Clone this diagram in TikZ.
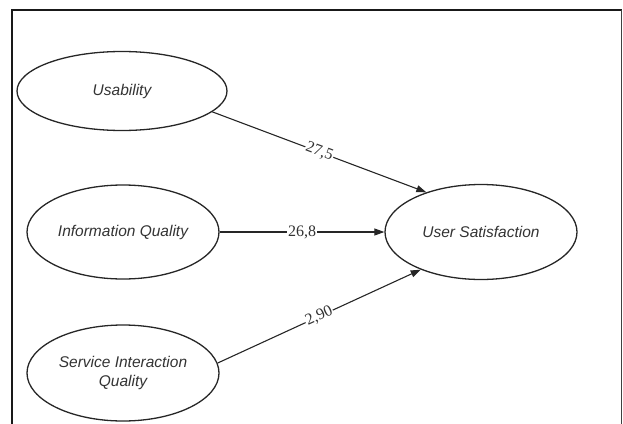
\documentclass[tikz,border=0pt]{standalone}
\usepackage{fontspec}
\setmainfont{Liberation Serif}
\setsansfont{Liberation Sans}
\usetikzlibrary{shapes.geometric,arrows.meta}
\begin{document}
\begin{tikzpicture}[x=1pt,y=-1pt,
  construct/.style={ellipse,draw=black!85,line width=1.3pt,inner sep=0pt,
    font=\sffamily\itshape\fontsize{15.5}{19.5}\selectfont,text=black!80,align=center},
  path/.style={draw=black!85,line width=1.1pt,-{Triangle[length=10pt,width=7pt]}},
  coef/.style={fill=white,inner sep=0.8pt,font=\fontsize{16}{16}\selectfont,text=black!80,sloped}]
\useasboundingbox (0,0) rectangle (623,423);
\clip (0,0) rectangle (623,423);
\draw[line width=2pt,black!90] (12,440) -- (12,10) -- (621.5,10);
\draw[line width=1.3pt,black!75] (621.5,10) -- (621.5,440);
\node[construct,minimum width=210pt,minimum height=79pt] (us) at (122,91) {Usability};
\node[construct,minimum width=192pt,minimum height=94pt] (iq) at (123,232) {Information Quality};
\node[construct,minimum width=192pt,minimum height=96pt] (sq) at (123,373) {Service Interaction\\Quality};
\node[construct,minimum width=192pt,minimum height=95pt] (usat) at (481,232) {User Satisfaction};
\draw[path] (us.-13.3) -- node[coef] {27,5} (usat.144.7);
\draw[path] (iq.east) -- node[coef] {26,8} (usat.west);
\draw[path] (sq.6.7) -- node[coef] {2,90} (usat.-148.3);
\end{tikzpicture}
\end{document}
